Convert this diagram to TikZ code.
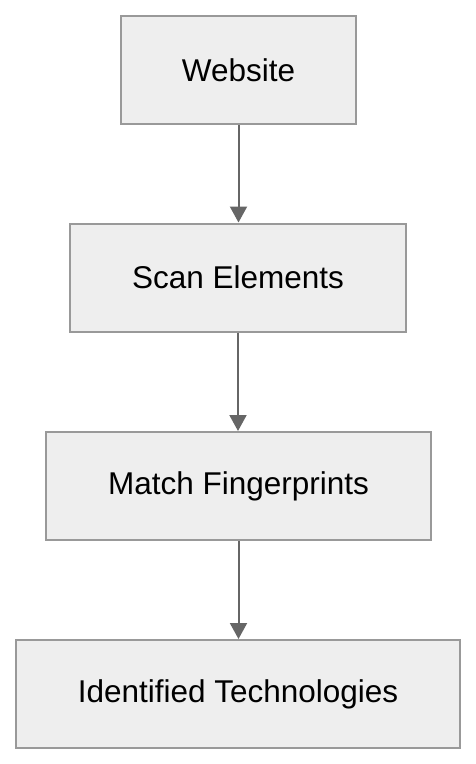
\documentclass[tikz,border=0pt]{standalone}
\usepackage{fontspec}
\setmainfont{Liberation Sans}
\usetikzlibrary{arrows.meta}
\definecolor{boxfill}{HTML}{EEEEEE}
\definecolor{boxline}{HTML}{999999}
\definecolor{arrowcol}{HTML}{666666}
\begin{document}
\begin{tikzpicture}[x=1pt,y=-1pt,
  stepbox/.style={draw=boxline,fill=boxfill,line width=2pt,rectangle,
    minimum height=108pt,inner sep=0pt,
    font=\fontsize{31.5pt}{36pt}\selectfont},
  flow/.style={draw=arrowcol,line width=2pt,
    -{Triangle[width=17pt,length=16pt]}}]
\useasboundingbox[fill=white] (0,0) rectangle (476,764);
\node[stepbox,minimum width=235pt] (web) at (238.5,70) {Website};
\node[stepbox,minimum width=336pt] (scan) at (238,277.5) {Scan Elements};
\node[stepbox,minimum width=385pt] (match) at (238.5,486) {Match Fingerprints};
\node[stepbox,minimum width=444pt] (tech) at (238,694) {Identified Technologies};
\draw[flow] (web.south) -- (web.south |- scan.north);
\draw[flow] (scan.south) -- (scan.south |- match.north);
\draw[flow] (match.south) -- (match.south |- tech.north);
\end{tikzpicture}
\end{document}
